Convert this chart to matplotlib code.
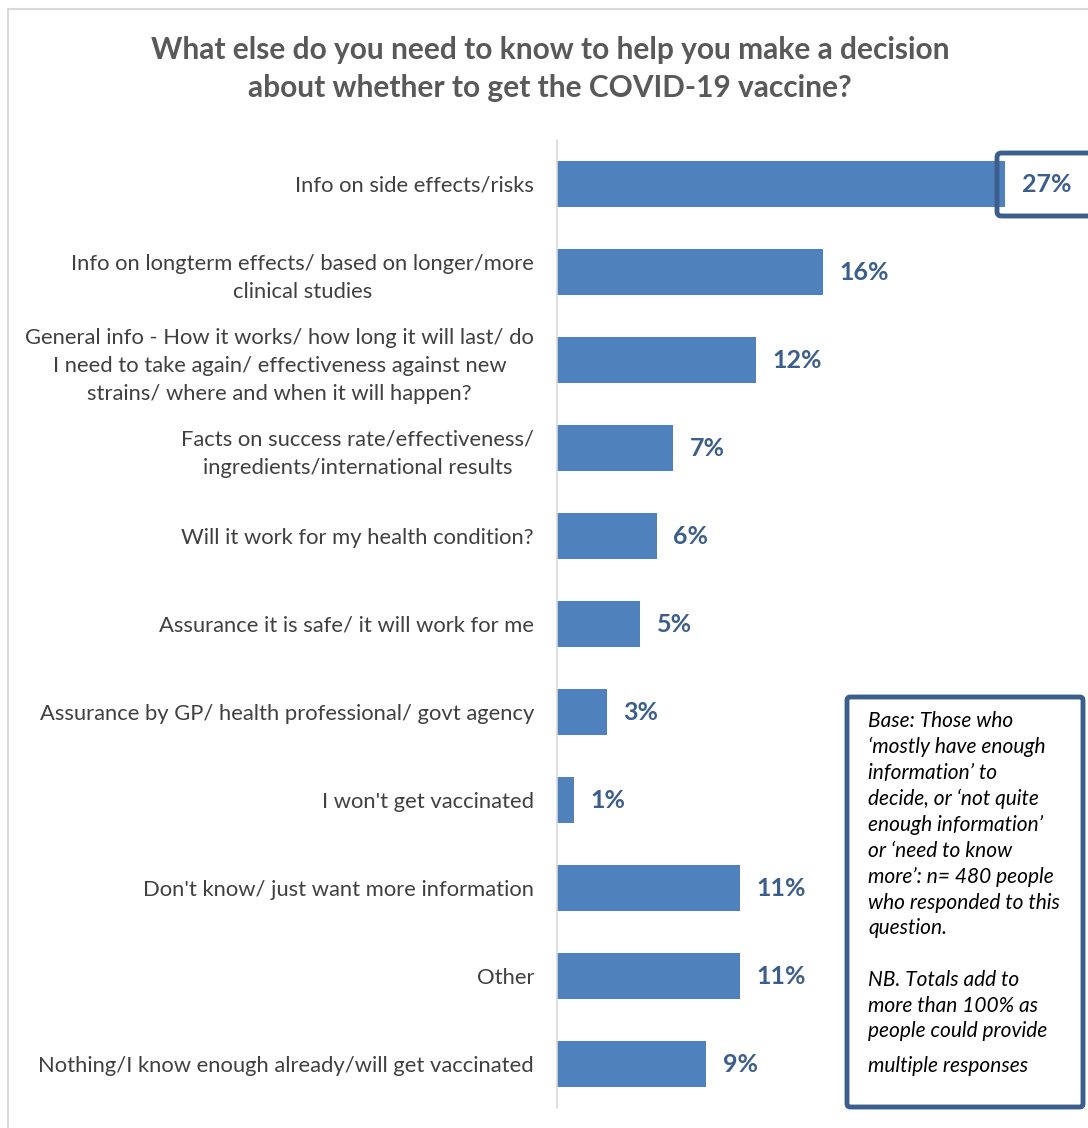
import matplotlib
matplotlib.use("Agg")
import matplotlib.pyplot as plt
from matplotlib.patches import FancyBboxPatch, Rectangle

plt.rcParams['font.family'] = ['Lato', 'DejaVu Sans']

categories = [
    "Info on side effects/risks",
    "Info on longterm effects/ based on longer/more\nclinical studies",
    "General info - How it works/ how long it will last/ do\nI need to take again/ effectiveness against new\nstrains/ where and when it will happen?",
    "Facts on success rate/effectiveness/\ningredients/international results",
    "Will it work for my health condition?",
    "Assurance it is safe/ it will work for me",
    "Assurance by GP/ health professional/ govt agency",
    "I won't get vaccinated",
    "Don't know/ just want more information",
    "Other",
    "Nothing/I know enough already/will get vaccinated",
]
values = [27, 16, 12, 7, 6, 5, 3, 1, 11, 11, 9]

title = ("What else do you need to know to help you make a decision\n"
         "about whether to get the COVID-19 vaccine?")
note = ("Base: Those who\n\u2018mostly have enough\ninformation\u2019 to\n"
        "decide, or \u2018not quite\nenough information\u2019\nor \u2018need to know\n"
        "more\u2019: n= 480 people\nwho responded to this\nquestion.\n\n"
        "NB. Totals add to\nmore than 100% as\npeople could provide")
note_last = "multiple responses"

BAR = "#4F81BD"
DARK = "#3B5E8C"
TEXT = "#404040"

W, H = 1088, 1128
fig = plt.figure(figsize=(W / 100, H / 100), dpi=100)

# light outer frame
fig.add_artist(Rectangle((8 / W, -0.1), 2, 1 - 9 / H + 0.1, transform=fig.transFigure,
                         fill=False, edgecolor="#D9D9D9", linewidth=1.5))

ax = fig.add_axes([557 / W, 1 - 1108 / H, (W - 557) / W, 968 / H])
y = list(range(len(categories)))
ax.barh(y, values, height=0.52, color=BAR)
ax.set_ylim(len(categories) - 0.5, -0.5)
ax.set_xlim(0, 32)
ax.set_yticks(y)
ax.set_yticklabels(categories, fontsize=15.8, color=TEXT, multialignment="center",
                   linespacing=1.5)
ax.tick_params(axis="y", length=0, pad=16.5)
ax.set_xticks([])
for s in ["top", "right", "bottom"]:
    ax.spines[s].set_visible(False)
ax.spines["left"].set_color("#D9D9D9")
ax.spines["left"].set_linewidth(1.2)

for i, v in enumerate(values):
    ax.annotate(f"{v}%", (v, i), xytext=(12, 0), textcoords="offset points",
                ha="left", va="center", fontsize=18, fontweight="bold", color=DARK)

# highlight box around the top value
fig.add_artist(FancyBboxPatch((997 / W, 1 - 216 / H), 120 / W, 63 / H,
                              boxstyle="round,pad=0,rounding_size=0.004",
                              transform=fig.transFigure, fill=False,
                              edgecolor=DARK, linewidth=3.5))

fig.text(550 / W, 1 - 69 / H, title, ha="center", va="center", fontsize=21.5,
         fontweight="bold", color="#595959", linespacing=1.47)

# base / note box
fig.add_artist(FancyBboxPatch((847 / W, 1 - 1107 / H), 236 / W, 410 / H,
                              boxstyle="round,pad=0,rounding_size=0.003",
                              transform=fig.transFigure, fill="white",
                              facecolor="white", edgecolor=DARK, linewidth=3.5))
fig.text(868 / W, 1 - 711 / H, note, ha="left", va="top", fontsize=15,
         style="italic", color="black", linespacing=1.36)
fig.text(868 / W, 1 - 1066 / H, note_last, ha="left", va="center", fontsize=15,
         style="italic", color="black")

fig.savefig("out.png", dpi=100)
